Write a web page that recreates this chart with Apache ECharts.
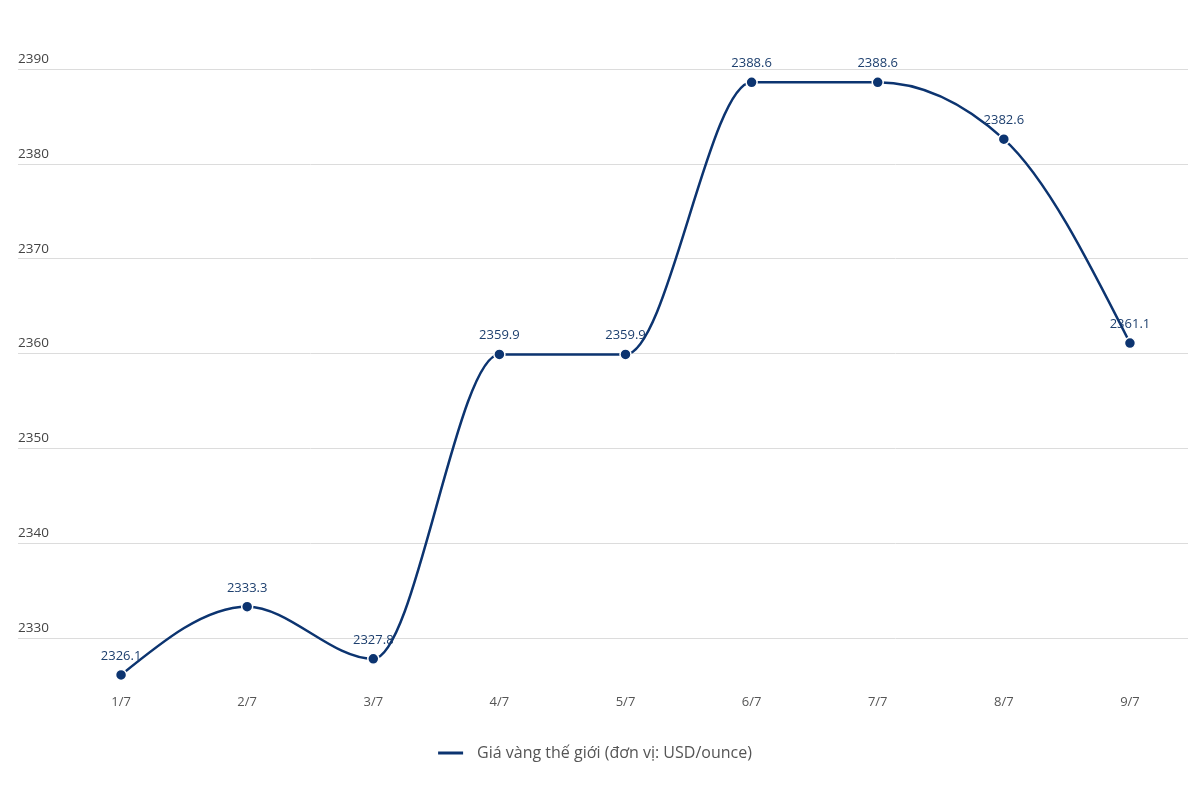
<!DOCTYPE html>
<html>
<head>
<meta charset="utf-8">
<script src="https://cdn.jsdelivr.net/npm/echarts@6/dist/echarts.min.js"></script>
<style>html,body{margin:0;padding:0;background:#fff}#c{width:1188px;height:791px}</style>
</head>
<body>
<div id="c"></div>
<script>
const categories = ['1/7','2/7','3/7','4/7','5/7','6/7','7/7','8/7','9/7'];
const goldPrice = [2326.1, 2333.3, 2327.8, 2359.9, 2359.9, 2388.6, 2388.6, 2382.6, 2361.1];
const seriesName = 'Giá vàng thế giới (đơn vị: USD/ounce)';
const yTicks = {min: 2330, max: 2390, interval: 10};

const FONT = '"Open Sans", "Noto Sans", sans-serif';
const LINE = '#0c3470';

// monotone-x cubic (Fritsch–Carlson style, as d3.curveMonotoneX) in pixel space
function monotonePath(pts) {
  const n = pts.length;
  if (n < 2) return '';
  const sign = v => v < 0 ? -1 : v > 0 ? 1 : 0;
  const t = new Array(n).fill(0);
  for (let i = 1; i < n - 1; i++) {
    const h0 = pts[i][0] - pts[i-1][0], h1 = pts[i+1][0] - pts[i][0];
    const s0 = (pts[i][1] - pts[i-1][1]) / h0, s1 = (pts[i+1][1] - pts[i][1]) / h1;
    const p = (s0 * h1 + s1 * h0) / (h0 + h1);
    t[i] = (sign(s0) + sign(s1)) * Math.min(Math.abs(s0), Math.abs(s1), 0.5 * Math.abs(p)) || 0;
  }
  {
    const h = pts[1][0] - pts[0][0];
    t[0] = (3 * (pts[1][1] - pts[0][1]) / h - t[1]) / 2;
    const h2 = pts[n-1][0] - pts[n-2][0];
    t[n-1] = (3 * (pts[n-1][1] - pts[n-2][1]) / h2 - t[n-2]) / 2;
  }
  let d = 'M' + pts[0][0] + ',' + pts[0][1];
  for (let i = 0; i < n - 1; i++) {
    const dx = (pts[i+1][0] - pts[i][0]) / 3;
    d += ' C' + (pts[i][0] + dx) + ',' + (pts[i][1] + dx * t[i]) + ' ' +
         (pts[i+1][0] - dx) + ',' + (pts[i+1][1] - dx * t[i+1]) + ' ' +
         pts[i+1][0] + ',' + pts[i+1][1];
  }
  return d;
}

const chart = echarts.init(document.getElementById('c'));
chart.setOption({
  animation: false,
  textStyle: {fontFamily: FONT},
  grid: [
    {left: 18, right: 0, top: 69, bottom: 153, outerBoundsMode: 'none'},
    {left: 58, width: 1135, top: 69, bottom: 105.6, outerBoundsMode: 'none'}
  ],
  xAxis: [
    {gridIndex: 0, type: 'category', data: categories, show: false},
    {gridIndex: 1, type: 'category', data: categories, boundaryGap: true,
     axisLine: {show: false}, axisTick: {show: false},
     axisLabel: {color: '#555', fontSize: 13, margin: 10, fontFamily: FONT}}
  ],
  yAxis: [
    {gridIndex: 0, type: 'value', min: yTicks.min, max: yTicks.max, interval: yTicks.interval,
     axisLine: {show: false}, axisTick: {show: false},
     splitLine: {lineStyle: {color: '#dcdcdc', width: 1}},
     axisLabel: {inside: true, verticalAlign: 'bottom', margin: 0, padding: [0,0,3,0],
                 color: '#444', fontSize: 13.5, fontFamily: FONT,
                 formatter: v => String(v)}},
    {gridIndex: 1, type: 'value', min: 2325, max: 2390, show: false, splitLine: {show: false}}
  ],
  legend: {
    bottom: 25, left: 'center', icon: 'rect', itemWidth: 27, itemHeight: 5, itemGap: 10,
    textStyle: {color: '#555', fontSize: 16, fontFamily: FONT, padding: [0, 0, 0, 8]},
    data: [seriesName]
  },
  series: [
    {
      name: 'curve', type: 'custom', xAxisIndex: 1, yAxisIndex: 1,
      data: goldPrice.map((v, i) => [i, v]),
      encode: {x: 0, y: 1},
      silent: true, z: 1,
      renderItem: function (params, api) {
        if (params.dataIndex !== 0) return null;
        const pts = goldPrice.map((v, i) => api.coord([i, v]));
        return {
          type: 'path',
          shape: {pathData: monotonePath(pts)},
          style: {fill: null, stroke: LINE, lineWidth: 2.5}
        };
      }
    },
    {
      name: seriesName, type: 'line', xAxisIndex: 1, yAxisIndex: 1, z: 3,
      data: goldPrice,
      symbol: 'circle', symbolSize: 11,
      lineStyle: {color: LINE, width: 0, opacity: 0},
      itemStyle: {color: LINE, borderColor: '#fff', borderWidth: 1.5},
      label: {show: true, position: 'top', distance: 6, color: '#1d3f6e', fontSize: 13, fontFamily: FONT}
    }
  ]
});
</script>
</body>
</html>
